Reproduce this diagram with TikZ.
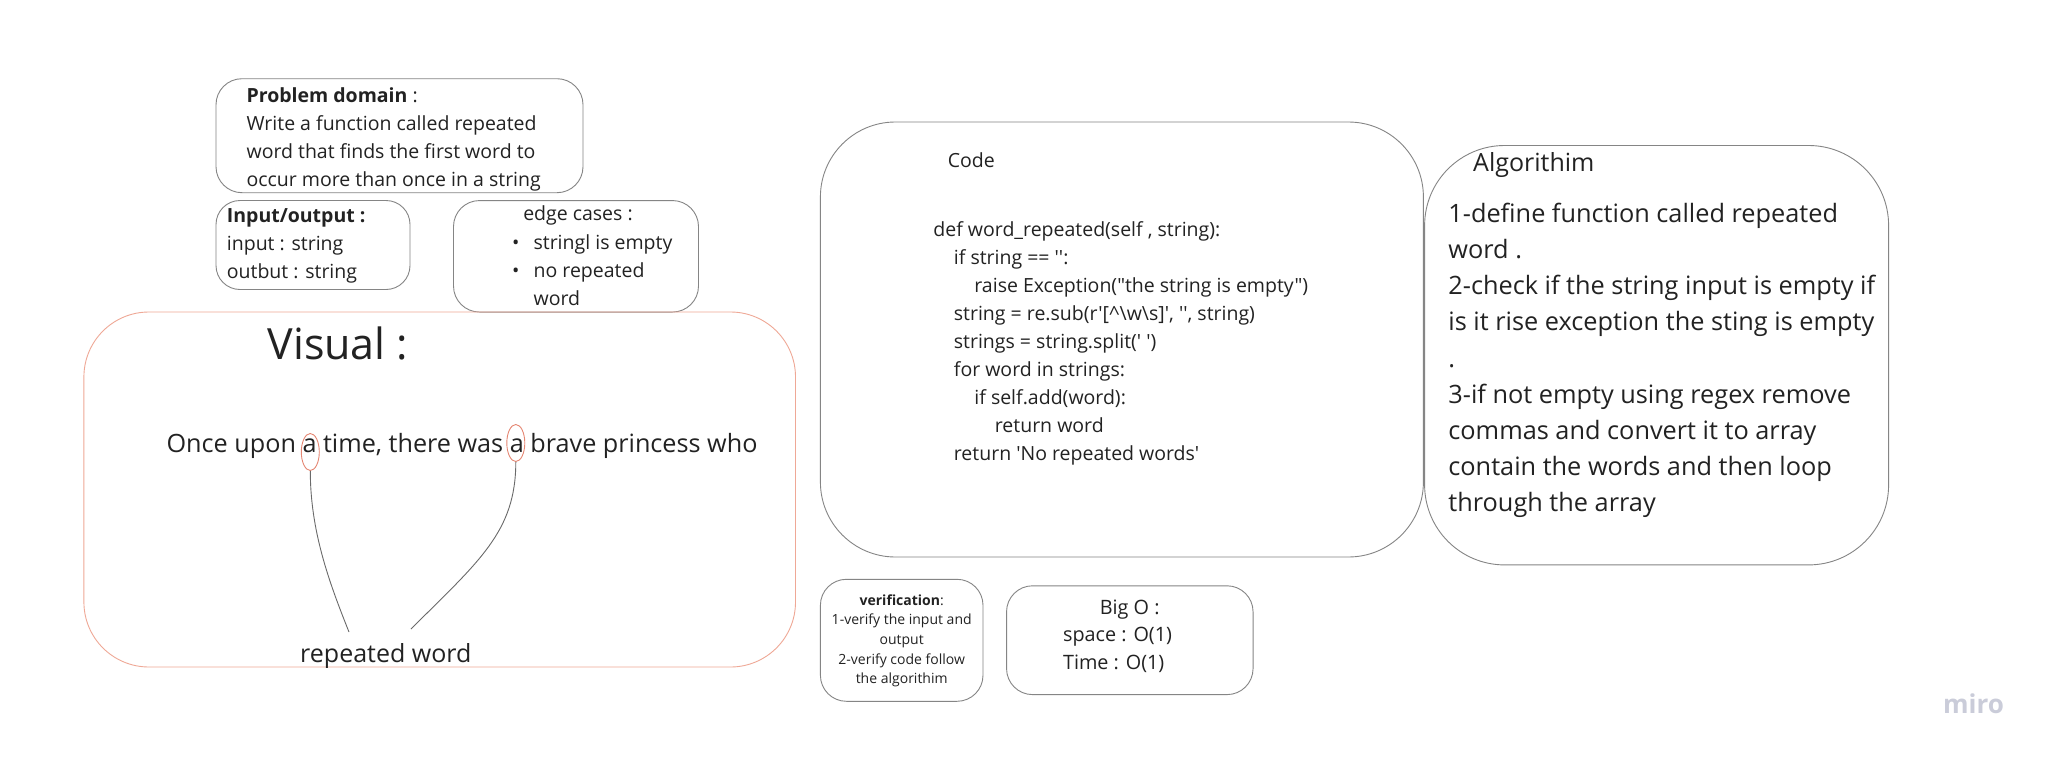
\documentclass[tikz,border=0pt]{standalone}
\usepackage{fontspec}
\setmainfont{Open Sans}
\newfontfamily\codefont{Open Sans}
\usetikzlibrary{shapes.geometric}
\definecolor{ink}{HTML}{222222}
\definecolor{edge}{HTML}{858585}
\definecolor{salmon}{HTML}{EFA896}
\definecolor{ring}{HTML}{E58672}
\definecolor{wiregray}{HTML}{6A6A6A}
\definecolor{mirogray}{HTML}{CACCD9}

\begin{document}
\begin{tikzpicture}[x=1pt, y=-1pt,
textnode/.style={align=left, anchor=north west, inner sep=0pt, text=ink, font={\fontsize{19.5}{28}\selectfont}},
boxnode/.style={draw=edge, line width=0.9pt, rounded corners=26pt, inner sep=0pt},
ringnode/.style={ellipse, draw=ring, line width=0.9pt, inner sep=0pt, minimum width=18pt, minimum height=37pt},%text width=10cm},
wire/.style={draw=wiregray, line width=0.9pt},
]
    \useasboundingbox[fill=white] (0,0) rectangle (2055,760);
    % boxes
    \node[boxnode, minimum width=367pt, minimum height=114pt](pdbox) at (399.5,135.7) {};
    \node[boxnode, minimum width=194pt, minimum height=89pt, rounded corners=24pt](iobox) at (313,245) {};
    \node[boxnode, minimum width=245pt, minimum height=111.5pt](ecbox) at (576,256.3) {};
    \node[boxnode, draw=salmon, minimum width=711.6pt, minimum height=355pt, rounded corners=65pt](visbox) at (439.7,489.5) {};
    \node[boxnode, minimum width=603pt, minimum height=435pt, rounded corners=75pt](codebox) at (1121.9,339.5) {};
    \node[boxnode, minimum width=464pt, minimum height=419.4pt, rounded corners=80pt](algobox) at (1656.6,355.2) {};
    \node[boxnode, minimum width=162.6pt, minimum height=122pt](verbox) at (901.7,640.3) {};
    \node[boxnode, minimum width=246.5pt, minimum height=108.8pt](bigobox) at (1129.8,640.2) {};

    % problem, input/output, edge cases
    \node[textnode](pd) at (246.4,87.3) {\textbf{Problem domain} :\\Write a function called repeated\\word that finds the first word to\\occur more than once in a string};
    \node[textnode](io) at (226.7,208.6) {\textbf{Input/output :}\\input : string\\outbut : string};
    \node[textnode, anchor=center](ectitle) at (578,215.5) {edge cases :};
    \node[textnode](eclist) at (512,234.1) {\makebox[21.4pt][l]{\textbullet}stringl is empty\\\makebox[21.4pt][l]{\textbullet}no repeated\\\hspace*{21.4pt}word};

    % visual
    \node[textnode, anchor=west, font={\fontsize{43}{50}\selectfont}](vistitle) at (267.4,343.4) {Visual :};
    \node[textnode, anchor=base west, font={\fontsize{25.2}{30}\selectfont}](story) at (166.4,452.7) {Once upon a time, there was a brave princess who};
    \node[ringnode](a1) at (310.3,452) {};
    \node[ringnode](a2) at (515.8,443) {};
    \node[textnode, anchor=base west, font={\fontsize{25}{30}\selectfont}](rw) at (300,662) {repeated word};
    \coordinate (c1) at (349,632);
    \coordinate (c2) at (411,629);
    \draw[wire] (a1.south) .. controls +(0,60) and +(-20,-50) .. (c1);
    \draw[wire] (a2.south) .. controls +(0,70) and +(68,-68) .. (c2);

    % code
    \node[textnode, anchor=west](codetitle) at (947.6,160) {Code};
    \node[textnode, font={\codefont\fontsize{19.5}{28}\selectfont}](code) at (933.2,221) {def word\_repeated(self , string):\\
    \hspace*{20.5pt}if string == '':\\
    \hspace*{41pt}raise Exception("the string is empty")\\
    \hspace*{20.5pt}string = re.sub(r'[\textasciicircum\textbackslash w\textbackslash s]', '', string)\\
    \hspace*{20.5pt}strings = string.split(' ')\\
    \hspace*{20.5pt}for word in strings:\\
    \hspace*{41pt}if self.add(word):\\
    \hspace*{61.5pt}return word\\
    \hspace*{20.5pt}return 'No repeated words'};

    % algorithm
    \node[textnode, anchor=west, font={\fontsize{25}{30}\selectfont}](algotitle) at (1473,165) {Algorithim};
    \node[textnode, font={\fontsize{25.3}{36.2}\selectfont}](algo) at (1448.2,202.7) {1-define function called repeated\\word .\\2-check if the string input is empty if\\is it rise exception the sting is empty\\.\\3-if not empty using regex remove\\commas and convert it to array\\contain the words and then loop\\through the array};

    % verification, big o
    \node[textnode, anchor=north, align=center, font={\fontsize{14}{19.6}\selectfont}](ver) at (901.7,594.3) {\textbf{verification}:\\1-verify the input and\\output\\2-verify code follow\\the algorithim};
    \node[textnode, anchor=center, font={\fontsize{19.8}{27.5}\selectfont}](bigotitle) at (1129.7,609.4) {Big O :};
    \node[textnode, font={\fontsize{19.8}{27.5}\selectfont}](bigo) at (1062.9,627.3) {space : O(1)\\Time : O(1)};

    \node[textnode, anchor=center, text=mirogray, font={\bfseries\fontsize{26}{30}\selectfont}](miro) at (1973.5,703.8) {miro};
\end{tikzpicture}
\end{document}
